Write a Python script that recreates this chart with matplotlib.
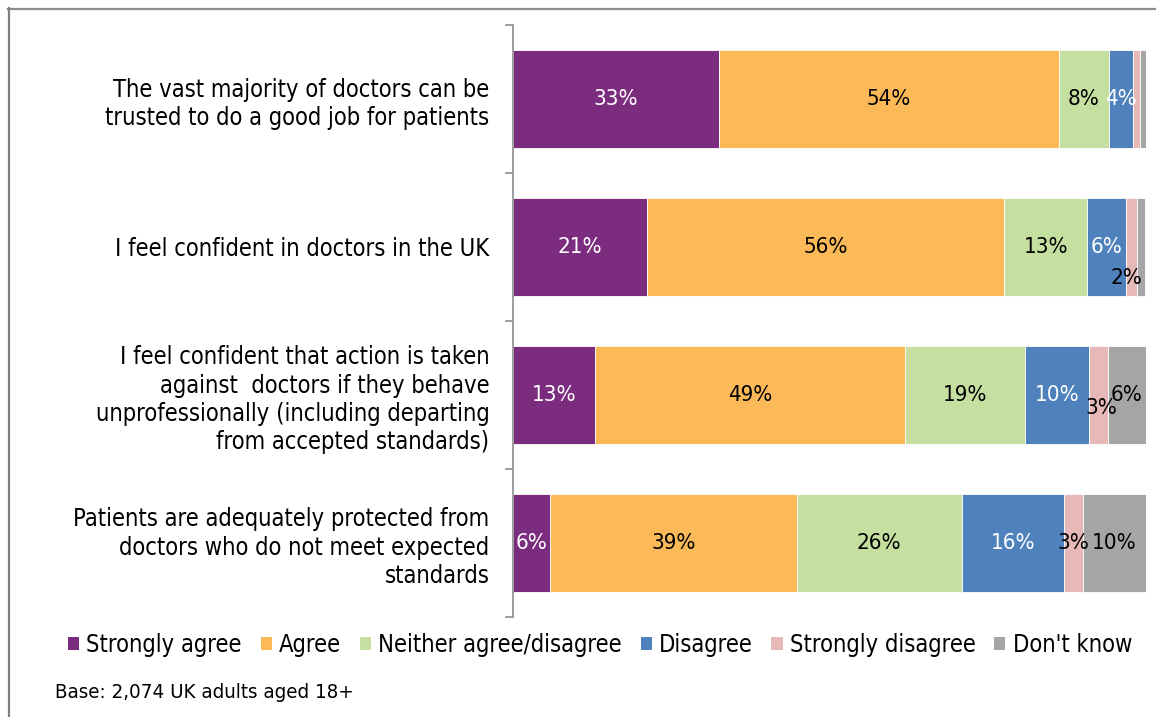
import matplotlib
matplotlib.use("Agg")
import matplotlib.pyplot as plt
from matplotlib.lines import Line2D
from matplotlib.patches import Patch
import numpy as np

plt.rcParams['font.family'] = ['DejaVu Sans']
plt.rcParams['font.stretch'] = 'condensed'

categories = [
    "The vast majority of doctors can be\ntrusted to do a good job for patients",
    "I feel confident in doctors in the UK",
    "I feel confident that action is taken\nagainst  doctors if they behave\nunprofessionally (including departing\nfrom accepted standards)",
    "Patients are adequately protected from\ndoctors who do not meet expected\nstandards",
]
series_names = ["Strongly agree", "Agree", "Neither agree/disagree",
                "Disagree", "Strongly disagree", "Don't know"]
strongly_agree = [32.6, 21.2, 13.0, 5.9]
agree = [53.6, 56.4, 48.9, 38.9]
neither = [7.9, 13.1, 19.0, 26.1]
disagree = [3.9, 6.2, 10.1, 16.1]
strongly_disagree = [1.0, 1.7, 3.0, 3.0]
dont_know = [1.1, 1.3, 6.0, 10.0]
base_note = "Base: 2,074 UK adults aged 18+"

colors = ["#7B2C7F", "#FBB957", "#C4DFA0", "#4F81BD", "#E6B9B8", "#A5A5A5"]
text_colors = ["white", "black", "black", "white", "black", "black"]
# label offsets (points) for overlapping labels: (series, row) -> (dx, dy)
label_offsets = {(4, 1): (-4, -22), (4, 2): (2, -9)}

series = [strongly_agree, agree, neither, disagree, strongly_disagree, dont_know]

W, H = 1156, 717
fig = plt.figure(figsize=(W / 100, H / 100), dpi=100)
ax = fig.add_axes([513 / W, 1 - 617 / H, (1146 - 513) / W, (617 - 25) / H])

y = np.arange(len(categories))
left = np.zeros(len(categories))
for si, vals in enumerate(series):
    vals = np.array(vals)
    bars = ax.barh(y, vals, left=left, height=0.665, color=colors[si],
                   edgecolor='white', linewidth=0.6, label=series_names[si])
    for ri, (b, v) in enumerate(zip(bars, vals)):
        if v < 1.5:
            continue
        cx = left[ri] + v / 2
        dx, dy = label_offsets.get((si, ri), (0, 0))
        ax.annotate(f"{v:.0f}%", (cx, y[ri]), xytext=(dx, dy),
                    textcoords='offset points', ha='center', va='center',
                    fontsize=16, color=text_colors[si])
    left = left + vals

ax.set_xlim(0, 100)
ax.set_ylim(len(categories) - 0.5, -0.5)
ax.set_yticks(y)
ax.set_yticklabels(categories, fontsize=17, ha='right', linespacing=1.22)
ax.tick_params(axis='y', which='major', length=0, pad=17)
ax.set_yticks(np.arange(-0.5, len(categories)), minor=True)
ax.tick_params(axis='y', which='minor', length=6, color='#8C8C8C', width=1.2)
ax.set_xticks([])
for s in ['top', 'right', 'bottom']:
    ax.spines[s].set_visible(False)
ax.spines['left'].set_color('#8C8C8C')
ax.spines['left'].set_linewidth(1.2)

handles = [Patch(facecolor=c, edgecolor='none') for c in colors]
fig.legend(handles, series_names, loc='center', ncol=6,
           bbox_to_anchor=(600 / W, 1 - 645 / H), frameon=False,
           fontsize=17, handlelength=0.47, handleheight=0.47,
           handletextpad=0.3, columnspacing=0.8)

fig.text(55 / W, 1 - 692 / H, base_note, fontsize=14.7, ha='left', va='center')

# outer frame lines (top and left)
fig.add_artist(Line2D([8 / W, 1], [1 - 8.5 / H, 1 - 8.5 / H], color='#8C8C8C', linewidth=1.6))
fig.add_artist(Line2D([8.5 / W, 8.5 / W], [0, 1 - 8 / H], color='#808080', linewidth=1.6))

fig.savefig("out.png", dpi=100)
